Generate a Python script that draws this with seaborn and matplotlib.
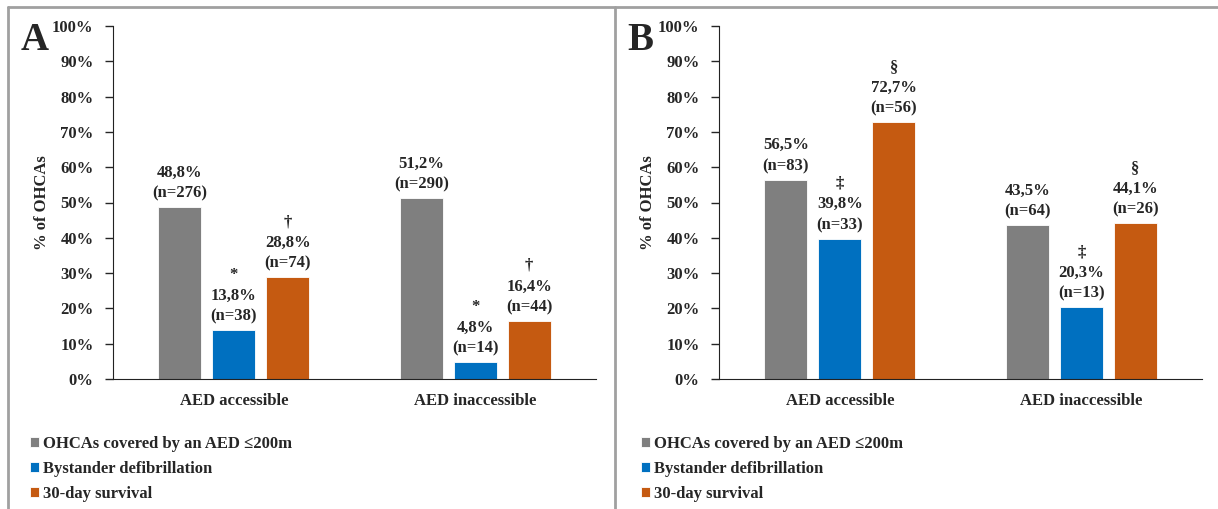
import pandas as pd
import numpy as np
import matplotlib
matplotlib.use("Agg")
import matplotlib.pyplot as plt
import seaborn as sns
from matplotlib.lines import Line2D

# ==========================================
# DATA
# ==========================================

groups = ["AED accessible", "AED inaccessible"]
measures = ["OHCAs covered by an AED \u2264200m", "Bystander defibrillation", "30-day survival"]

# panel A (rows = groups, cols = measures)
a_pct = [[48.8, 13.8, 28.8], [51.2, 4.8, 16.4]]
a_n = [[276, 38, 74], [290, 14, 44]]
a_marks = ["", "*", "\u2020"]

# panel B
b_pct = [[56.5, 39.8, 72.7], [43.5, 20.3, 44.1]]
b_n = [[83, 33, 56], [64, 13, 26]]
b_marks = ["", "\u2021", "\u00a7"]

colors = ["#7f7f7f", "#0070c0", "#c55a11"]
y_ticks = [0, 10, 20, 30, 40, 50, 60, 70, 80, 90, 100]

# ==========================================
# STYLE
# ==========================================

sns.set_style("white")
plt.rcParams["font.family"] = ["Liberation Serif", "DejaVu Serif"]
plt.rcParams["font.weight"] = "bold"
plt.rcParams["font.size"] = 12

W, H = 1218, 509
fig = plt.figure(figsize=(W / 100, H / 100), dpi=100)


def make_df(pct, n):
    rows = []
    for gi, g in enumerate(groups):
        for mi, m in enumerate(measures):
            rows.append({"group": g, "measure": m, "pct": pct[gi][mi], "n": n[gi][mi]})
    return pd.DataFrame(rows)


def draw_panel(left_px, pct, n, marks, letter, letter_x, legend_x):
    ax = fig.add_axes([left_px / W, 1 - 379 / H, 483 / W, 353 / H])
    df = make_df(pct, n)
    sns.barplot(data=df, x="group", y="pct", hue="measure", order=groups,
                hue_order=measures, palette=colors, width=0.67, gap=0.2,
                saturation=1, edgecolor="white", linewidth=0.6, ax=ax)

    ax.set_ylim(0, 100)
    ax.set_yticks(y_ticks)
    ax.set_yticklabels([f"{t}%" for t in y_ticks], fontweight="bold", fontsize=12)
    ax.set_xlabel("")
    ax.set_ylabel("% of OHCAs", fontweight="bold", fontsize=12)
    ax.yaxis.set_label_coords(-0.13, 0.5)
    for lab in ax.get_xticklabels():
        lab.set_fontweight("bold")
        lab.set_fontsize(12)
    ax.tick_params(axis="y", direction="out", length=6, width=1, pad=8, left=True)
    ax.tick_params(axis="x", length=0, pad=10)
    sns.despine(ax=ax)
    ax.spines["left"].set_color("#222222")
    ax.spines["bottom"].set_color("#222222")

    # bar labels
    for mi, cont in enumerate(ax.containers):
        for gi, bar in enumerate(cont):
            x = bar.get_x() + bar.get_width() / 2
            h = bar.get_height()
            txt = f"{pct[gi][mi]:.1f}%".replace(".", ",") + f"\n(n={n[gi][mi]})"
            if marks[mi]:
                txt = marks[mi] + "\n" + txt
            ax.annotate(txt, (x, h), xytext=(0, 4), textcoords="offset points",
                        ha="center", va="bottom", fontsize=12, fontweight="bold",
                        linespacing=1.4)

    handles, labels = ax.get_legend_handles_labels()
    ax.get_legend().remove()
    fig.legend(handles, labels, loc="upper left",
               bbox_to_anchor=(legend_x / W, 1 - 436 / H), frameon=False,
               handlelength=0.55, handleheight=0.55, handletextpad=0.25,
               labelspacing=0.55, borderpad=0, borderaxespad=0,
               prop={"weight": "bold", "size": 12})

    fig.text(letter_x / W, 1 - 41 / H, letter, fontsize=28, fontweight="bold",
             ha="left", va="center")
    return ax


draw_panel(113, a_pct, a_n, a_marks, "A", 21, 30)
draw_panel(719, b_pct, b_n, b_marks, "B", 627, 641)

# frame lines like the original figure
border = "#a0a0a0"
fig.add_artist(Line2D([8 / W, 1], [1 - 7 / H, 1 - 7 / H], color=border, lw=2))
fig.add_artist(Line2D([8 / W, 8 / W], [0, 1 - 7 / H], color=border, lw=2))
fig.add_artist(Line2D([615 / W, 615 / W], [0, 1 - 7 / H], color=border, lw=2))

fig.savefig("out.png", dpi=100)
